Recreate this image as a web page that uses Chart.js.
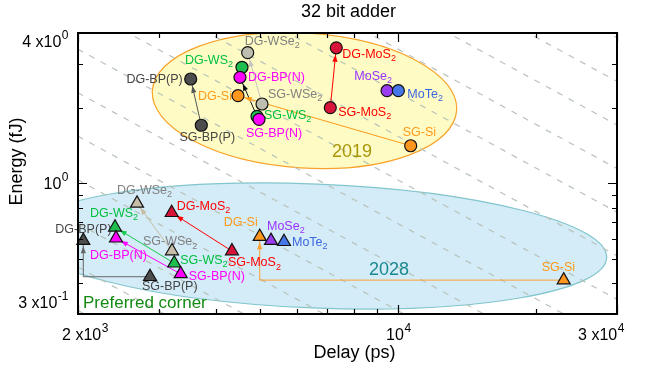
<!DOCTYPE html>
<html><head><meta charset="utf-8">
<script src="https://cdn.jsdelivr.net/npm/chart.js@4/dist/chart.umd.min.js"></script>
<style>html,body{margin:0;padding:0;background:#fff}#wrap{width:645px;height:368px;position:relative}</style>
</head><body><div id="wrap"><canvas id="c" width="645" height="368"></canvas></div>
<script>
// ---------- data ----------
const devices = ['SG-BP(P)','DG-BP(P)','SG-WSe_2','DG-WSe_2','SG-WS_2','DG-WS_2','SG-BP(N)','DG-BP(N)','SG-MoS_2','DG-MoS_2','SG-Si','DG-Si','MoSe_2','MoTe_2'];
const delay2019  = [3716, 3523, 5041, 4691, 4916, 4559, 4966, 4513, 7104, 7322, 10640, 4468, 9447, 10000];
const energy2019 = [1.709, 2.618, 2.079, 3.336, 1.856, 2.916, 1.805, 2.659, 2.009, 3.49, 1.415, 2.244, 2.35, 2.35];
const delay2028  = [2872, 2054, 3207, 2690, 3244, 2409, 3351, 2421, 4335, 3202, 22950, 4983, 5274, 5630];
const energy2028 = [0.423, 0.59, 0.536, 0.832, 0.479, 0.667, 0.434, 0.603, 0.536, 0.763, 0.41, 0.612, 0.59, 0.584];
// constant energy-delay product guide lines (fJ*ps)
const edpLevels = [620, 925, 1380, 2065, 3090, 4610, 6890, 10300, 15400, 23000, 34400, 51400, 76800, 114800];
// arrows: [from index, to index]
const arrows2019 = [[0,1],[4,7],[2,3],[8,9],[10,11]];
const arrows2028 = [[0,1],[6,7],[4,5],[2,3],[8,9],[10,11]];
const cornerArrows2028 = [0, 10]; // arrows drawn with a right-angle corner
const xMajorTicks = [2000, 10000, 30000];
const xMajorLabels = ['2 x10^3', '10^4', '3 x10^4'];
const xMinorTicks = [3000, 4000, 5000, 6000, 7000, 8000, 9000, 20000];
const yMajorTicks = [0.3, 1, 4];
const yMajorLabels = ['3 x10^-1', '10^0', '4 x10^0'];
const yMinorTicks = [0.4, 0.5, 0.6, 0.7, 0.8, 0.9, 2, 3];
// ellipses: centre (delay, energy), half-axes in decades, rotation
const ellipse2019 = {cx: 6241, cy: 2.147, rxDec: 0.3327, ryDec: 0.270, rot: 0.065};
const ellipse2028 = {cx: 6578, cy: 0.5615, rxDec: 0.637, ryDec: 0.248, rot: 0.04};
const notes = [
  {text: '2019', x: 7924, y: 1.336, color: '#a8960a', size: 18, align: 'center'},
  {text: '2028', x: 9542, y: 0.45, color: '#1a8a8e', size: 18, align: 'center'},
  {text: 'Preferred corner', x: 2051, y: 0.332, color: '#138a13', size: 17, align: 'left'}
];

// ---------- styles ----------
const FONT = '"Liberation Sans", Arial, Helvetica, sans-serif';
const fill2019 = ['#4d4d4d','#4d4d4d','#bdbdb0','#bdbdb0','#1fbf4f','#1fbf4f','#ff00ff','#ff00ff','#d8143a','#d8143a','#ff961e','#ff961e','#9a3cf0','#4577e8'];
const fill2028 = ['#4d4d4d','#4d4d4d','#c6bea8','#c6bea8','#1fbf4f','#1fbf4f','#ff00ff','#ff00ff','#d8143a','#d8143a','#ff961e','#ff961e','#9a3cf0','#4577e8'];
const textCol = ['#454545','#454545','#808080','#808080','#00c040','#00c040','#ff00ff','#ff00ff','#ff0000','#ff0000','#ff9a1a','#ff9a1a','#9933ff','#3a66e0'];
const arrowCol2019 = ['#555555','#111111','#c4c4c0','#ff0000','#ff9a1a'];
const arrowCol2028 = ['#666666','#ff00ff','#18c850','#c8bca0','#ff0000','#ffa030'];
// label placement: [dx, dy, align] in px relative to marker
const lab2019 = [[6,12,'center'],[-8,1,'right'],[6,-9,'left'],[-3,-11,'left'],[7,-1,'left'],[-9,-7,'right'],[-13,14,'left'],[8,0,'left'],[8,5,'left'],[6,7,'left'],[-8,-13,'left'],[-6,1,'right'],[5,-14,'right'],[9,4,'left']];
const lab2028 = [[-8,10,'left'],[-28,-11,'left'],[-29,-9,'left'],[-20,-13,'left'],[6,-3,'left'],[-25,-14,'left'],[8,3,'left'],[-26,17,'left'],[-4,12,'left'],[5,-6,'left'],[-22,-13,'left'],[-2,-14,'right'],[-4,-14,'left'],[8,1,'left']];

// ---------- helpers ----------
function drawRich(ctx, str, x, y, align, size, color) {
  let base = str, sub = '', sup = '';
  if (str.includes('_')) { [base, sub] = str.split('_'); }
  else if (str.includes('^')) { [base, sup] = str.split('^'); }
  ctx.save();
  ctx.fillStyle = color;
  ctx.textBaseline = 'middle';
  ctx.textAlign = 'left';
  ctx.font = size + 'px ' + FONT;
  const wb = ctx.measureText(base).width;
  const small = Math.round(size * 0.72);
  ctx.font = small + 'px ' + FONT;
  const ws = ctx.measureText(sub || sup).width;
  const total = wb + ws;
  let x0 = align === 'left' ? x : align === 'right' ? x - total : x - total / 2;
  ctx.font = size + 'px ' + FONT;
  ctx.fillText(base, x0, y);
  ctx.font = small + 'px ' + FONT;
  if (sub) ctx.fillText(sub, x0 + wb, y + size * 0.32);
  if (sup) ctx.fillText(sup, x0 + wb + 0.5, y - size * 0.45);
  ctx.restore();
}
const pts = (ds, es) => ds.map((d, i) => ({x: d, y: es[i]}));

// ---------- datasets ----------
const datasets = [];
edpLevels.forEach(L => datasets.push({
  data: [{x: 1500, y: L / 1500}, {x: 40000, y: L / 40000}],
  showLine: true, pointRadius: 0, borderColor: '#b8c3b8', borderWidth: 1.2,
  borderDash: [6, 7], order: 10
}));
function arrowData(ds, es, a, corner) {
  const [s, t] = a;
  const arr = [{x: ds[s], y: es[s]}];
  if (corner) arr.push({x: ds[t], y: es[s]});
  arr.push({x: ds[t], y: es[t]});
  return arr;
}
const arrowSets = [];
arrows2019.forEach((a, k) => {
  const d = arrowData(delay2019, energy2019, a, false);
  arrowSets.push({d, color: arrowCol2019[k], r: 7});
  datasets.push({data: d, showLine: true, pointRadius: 0, borderColor: arrowCol2019[k], borderWidth: 1, order: 5});
});
arrows2028.forEach((a, k) => {
  const d = arrowData(delay2028, energy2028, a, cornerArrows2028.includes(a[0]));
  arrowSets.push({d, color: arrowCol2028[k], r: 5.5});
  datasets.push({data: d, showLine: true, pointRadius: 0, borderColor: arrowCol2028[k], borderWidth: 1, order: 5});
});
const TRI_INDEX = datasets.length;
datasets.push({data: pts(delay2028, energy2028), pointStyle: 'triangle', pointRadius: 7.5,
  backgroundColor: fill2028, borderColor: '#111', borderWidth: 1.2, order: 1, clip: false});
datasets.push({data: pts(delay2019, energy2019), pointStyle: 'circle', pointRadius: 6,
  backgroundColor: fill2019, borderColor: '#111', borderWidth: 1.2, order: 0, clip: false});

// ---------- plugin ----------
function drawEllipse(ctx, chart, e, fill, stroke) {
  const xs = chart.scales.x, ys = chart.scales.y;
  const cx = xs.getPixelForValue(e.cx), cy = ys.getPixelForValue(e.cy);
  const rx = xs.getPixelForValue(e.cx * Math.pow(10, e.rxDec)) - cx;
  const ry = cy - ys.getPixelForValue(e.cy * Math.pow(10, e.ryDec));
  ctx.beginPath();
  ctx.ellipse(cx, cy, rx, ry, e.rot, 0, Math.PI * 2);
  ctx.fillStyle = fill; ctx.fill();
  ctx.lineWidth = 1.2; ctx.strokeStyle = stroke; ctx.stroke();
}
const deco = {
  id: 'deco',
  beforeDatasetsDraw(chart) {
    const ctx = chart.ctx, a = chart.chartArea;
    ctx.save();
    ctx.beginPath(); ctx.rect(a.left, a.top, a.right - a.left, a.bottom - a.top); ctx.clip();
    drawEllipse(ctx, chart, ellipse2019, '#fefcc4', '#f8a22a');
    drawEllipse(ctx, chart, ellipse2028, '#d4ebf8', '#80c6cc');
    ctx.restore();
  },
  beforeDatasetDraw(chart, args) {
    if (args.index !== TRI_INDEX) return;
    const ctx = chart.ctx, xs = chart.scales.x, ys = chart.scales.y;
    // arrowheads
    arrowSets.forEach(s => {
      const n = s.d.length;
      const p1 = {x: xs.getPixelForValue(s.d[n-2].x), y: ys.getPixelForValue(s.d[n-2].y)};
      const p2 = {x: xs.getPixelForValue(s.d[n-1].x), y: ys.getPixelForValue(s.d[n-1].y)};
      const L = Math.hypot(p2.x - p1.x, p2.y - p1.y);
      const ux = (p2.x - p1.x) / L, uy = (p2.y - p1.y) / L;
      const tx = p2.x - ux * s.r, ty = p2.y - uy * s.r;
      const bx = tx - ux * 7, by = ty - uy * 7;
      ctx.save();
      ctx.fillStyle = s.color;
      ctx.beginPath();
      ctx.moveTo(tx, ty);
      ctx.lineTo(bx - uy * 2.6, by + ux * 2.6);
      ctx.lineTo(bx + uy * 2.6, by - ux * 2.6);
      ctx.closePath(); ctx.fill();
      ctx.restore();
    });
    // device labels
    devices.forEach((name, i) => {
      let o = lab2019[i];
      drawRich(ctx, name, xs.getPixelForValue(delay2019[i]) + o[0], ys.getPixelForValue(energy2019[i]) + o[1], o[2], 12.5, textCol[i]);
      o = lab2028[i];
      drawRich(ctx, name, xs.getPixelForValue(delay2028[i]) + o[0], ys.getPixelForValue(energy2028[i]) + o[1], o[2], 12.5, textCol[i]);
    });
    notes.forEach(n => drawRich(ctx, n.text, xs.getPixelForValue(n.x), ys.getPixelForValue(n.y), n.align, n.size, n.color));
  },
  afterDraw(chart) {
    const ctx = chart.ctx, a = chart.chartArea, xs = chart.scales.x, ys = chart.scales.y;
    ctx.save();
    ctx.strokeStyle = '#000';
    ctx.lineWidth = 1.2;
    const tick = (v, len, axis) => {
      ctx.beginPath();
      if (axis === 'x') {
        const p = Math.round(xs.getPixelForValue(v)) + 0.5;
        ctx.moveTo(p, a.bottom); ctx.lineTo(p, a.bottom - len);
        ctx.moveTo(p, a.top); ctx.lineTo(p, a.top + len);
      } else {
        const p = Math.round(ys.getPixelForValue(v)) + 0.5;
        ctx.moveTo(a.left, p); ctx.lineTo(a.left + len, p);
        ctx.moveTo(a.right, p); ctx.lineTo(a.right - len, p);
      }
      ctx.stroke();
    };
    xMinorTicks.forEach(v => tick(v, 5, 'x'));
    xMajorTicks.forEach(v => tick(v, 9, 'x'));
    yMinorTicks.forEach(v => tick(v, 5, 'y'));
    yMajorTicks.forEach(v => tick(v, 9, 'y'));
    ctx.lineWidth = 2;
    ctx.strokeRect(a.left, a.top, a.right - a.left, a.bottom - a.top);
    ctx.restore();
    // tick labels
    const xShift = [7, 0, -16];
    xMajorTicks.forEach((v, i) => drawRich(ctx, xMajorLabels[i], xs.getPixelForValue(v) + xShift[i], a.bottom + 22, 'center', 16, '#000'));
    const yShift = [-10, 1, 9.5];
    yMajorTicks.forEach((v, i) => drawRich(ctx, yMajorLabels[i], a.left - 10, ys.getPixelForValue(v) + yShift[i], 'right', 16, '#000'));
    // axis titles and title
    drawRich(ctx, 'Delay (ps)', (a.left + a.right) / 2 + 7, a.bottom + 39, 'center', 18, '#000');
    drawRich(ctx, '32 bit adder', (a.left + a.right) / 2 + 1, 12, 'center', 18, '#000');
    ctx.save();
    ctx.translate(17, (a.top + a.bottom) / 2 - 12);
    ctx.rotate(-Math.PI / 2);
    drawRich(ctx, 'Energy (fJ)', 0, 0, 'center', 18, '#000');
    ctx.restore();
  }
};

new Chart(document.getElementById('c'), {
  type: 'scatter',
  data: {datasets},
  options: {
    responsive: false, animation: false, devicePixelRatio: 1,
    layout: {padding: {left: 78, right: 28, top: 33, bottom: 54}},
    scales: {
      x: {type: 'logarithmic', min: 2000, max: 30000, display: false},
      y: {type: 'logarithmic', min: 0.3, max: 4, display: false}
    },
    plugins: {legend: {display: false}, tooltip: {enabled: false}, title: {display: false}}
  },
  plugins: [deco]
});
</script></body></html>
